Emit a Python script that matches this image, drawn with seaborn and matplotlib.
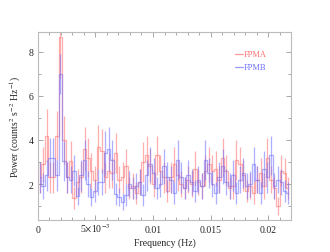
import numpy as np
import pandas as pd
import matplotlib
matplotlib.use("Agg")
import matplotlib.pyplot as plt
import seaborn as sns

# ─────────────────────────────────────────────
# Data
# ─────────────────────────────────────────────
bin_width = 0.0003
freq = [bin_width * (k + 0.5) for k in range(73)]

fpma_power = [2.3, 2.9, 4.2, 2.3, 2.3, 4.2, 8.7, 4.0, 2.3, 3.05,
              1.35, 2.1, 2.3, 3.6, 3.2, 2.6, 2.2, 3.7, 3.5, 2.3,
              2.6, 2.5, 3.4, 2.2, 2.3, 2.8, 1.8, 1.9, 1.6, 2.1,
              3.0, 3.3, 2.8, 2.0, 3.3, 2.6, 2.3, 1.7, 2.3, 2.9,
              2.4, 2.0, 1.8, 2.2, 2.0, 2.7, 2.1, 1.9, 2.6, 2.9,
              2.6, 2.7, 2.2, 3.2, 2.6, 1.8, 1.9, 3.1, 2.9, 2.4,
              1.7, 1.9, 1.6, 2.2, 2.5, 1.9, 3.2, 2.2, 1.8, 1.0,
              2.6, 2.5, 1.8]
fpma_err = [0.7, 0.8, 1.2, 0.7, 0.7, 1.1, 1.9, 1.1, 0.7, 0.9,
            0.5, 0.6, 0.7, 1.0, 0.9, 0.8, 0.6, 1.0, 1.0, 0.7,
            0.8, 0.7, 0.9, 0.6, 0.7, 0.8, 0.5, 0.6, 0.5, 0.6,
            0.9, 0.9, 0.8, 0.6, 0.9, 0.7, 0.7, 0.5, 0.7, 0.8,
            0.7, 0.6, 0.5, 0.6, 0.6, 0.8, 0.6, 0.6, 0.7, 0.8,
            0.7, 0.8, 0.6, 0.9, 0.7, 0.5, 0.6, 0.9, 0.8, 0.7,
            0.5, 0.6, 0.5, 0.6, 0.7, 0.6, 0.9, 0.6, 0.5, 0.4,
            0.7, 0.7, 0.5]

fpmb_power = [2.3, 1.9, 2.4, 3.2, 3.2, 2.4, 7.0, 3.05, 2.3, 2.2,
              2.6, 1.45, 2.4, 3.1, 2.0, 1.4, 1.7, 2.1, 2.1, 3.4,
              3.6, 3.1, 1.55, 1.4, 1.2, 1.5, 2.0, 1.8, 1.9, 2.1,
              1.5, 2.4, 2.9, 2.5, 1.8, 2.0, 2.8, 2.3, 2.2, 1.6,
              3.1, 2.3, 1.8, 2.4, 2.1, 1.7, 2.2, 1.9, 3.1, 2.5,
              2.0, 1.6, 2.3, 2.8, 2.1, 1.9, 2.4, 1.6, 2.2, 2.5,
              1.9, 2.0, 2.9, 2.2, 1.6, 2.7, 2.3, 3.3, 1.9, 2.2,
              2.1, 1.7, 1.6]
fpmb_err = [0.7, 0.6, 0.7, 0.9, 0.9, 0.7, 0.9, 0.9, 0.7, 0.6,
            0.7, 0.4, 0.7, 0.9, 0.6, 0.4, 0.5, 0.6, 0.6, 1.0,
            1.0, 0.9, 0.5, 0.4, 0.4, 0.5, 0.6, 0.5, 0.6, 0.6,
            0.5, 0.7, 0.8, 0.7, 0.5, 0.6, 0.8, 0.7, 0.6, 0.5,
            0.9, 0.7, 0.5, 0.7, 0.6, 0.5, 0.6, 0.6, 0.9, 0.7,
            0.6, 0.5, 0.7, 0.8, 0.6, 0.6, 0.7, 0.5, 0.6, 0.7,
            0.6, 0.6, 0.8, 0.6, 0.5, 0.8, 0.7, 0.9, 0.6, 0.6,
            0.6, 0.5, 0.5]

x_ticks = [0, 0.005, 0.01, 0.015, 0.02]
x_ticklabels = ["0", r"5$\times$10$^{-3}$", "0.01", "0.015", "0.02"]
y_ticks = [2, 4, 6, 8]

colors = {"FPMA": "#ff6e6e", "FPMB": "#6e6eff"}

# ─────────────────────────────────────────────
# Plot
# ─────────────────────────────────────────────
sns.set_theme(style="ticks")
plt.rcParams["font.family"] = ["Liberation Serif", "DejaVu Serif"]
plt.rcParams["mathtext.fontset"] = "stix"

df = pd.concat([
    pd.DataFrame({"freq": freq, "power": fpma_power, "err": fpma_err, "det": "FPMA"}),
    pd.DataFrame({"freq": freq, "power": fpmb_power, "err": fpmb_err, "det": "FPMB"}),
])

fig = plt.figure(figsize=(3.3, 2.53), dpi=100)
ax = fig.add_axes([0.115, 0.126, 0.767, 0.744])

sns.lineplot(data=df, x="freq", y="power", hue="det", palette=colors,
             drawstyle="steps-mid", linewidth=0.9, alpha=0.55, ax=ax,
             legend=False, estimator=None, sort=False)
for det, grp in df.groupby("det"):
    ax.errorbar(grp["freq"], grp["power"], yerr=grp["err"], fmt="none",
                ecolor=colors[det], elinewidth=0.9, capsize=0, alpha=0.55)

ax.set_xlim(0, 0.022)
ax.set_ylim(0.36, 8.91)
ax.set_xticks(x_ticks)
ax.set_xticklabels(x_ticklabels)
ax.set_yticks(y_ticks)
ax.set_xticks(np.arange(0, 0.0221, 0.001), minor=True)
ax.set_yticks([1, 3, 5, 7], minor=True)
ax.tick_params(which="both", direction="in", top=True, right=True,
               labelsize=7, color="#999999")
ax.tick_params(axis="y", pad=3)
ax.tick_params(axis="x", pad=8.5)
for lbl in ax.get_xticklabels():
    lbl.set_verticalalignment("baseline")
ax.tick_params(which="major", length=3.5, width=0.6)
ax.tick_params(which="minor", length=2, width=0.6)
for sp in ax.spines.values():
    sp.set_color("#bbbbbb")
    sp.set_linewidth(0.8)

ax.set_xlabel("Frequency (Hz)", fontsize=7, labelpad=2)
ax.set_ylabel(r"Power (counts$^2$ s$^{-2}$ Hz$^{-1}$)", fontsize=7, labelpad=4)

# legend: short line + coloured label
for i, det in enumerate(["FPMA", "FPMB"]):
    yy = 0.88 - i * 0.065
    ax.plot([0.78, 0.81], [yy, yy], transform=ax.transAxes,
            color=colors[det], linewidth=0.9, alpha=0.7)
    ax.text(0.812, yy, det, transform=ax.transAxes, color=colors[det],
            fontsize=6, va="center", ha="left")

fig.savefig("out.png", dpi=100)
